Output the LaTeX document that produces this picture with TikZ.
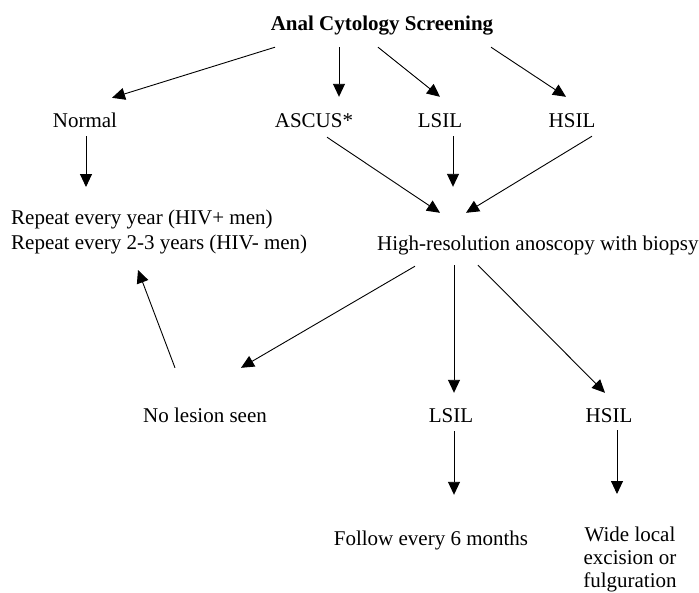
\documentclass[tikz,border=0pt]{standalone}
\usepackage{fontspec}
\setmainfont{Liberation Serif}
\usetikzlibrary{arrows.meta,calc,positioning}

\begin{document}
\begin{tikzpicture}[x=1pt, y=-1pt, every node/.style={font=\fontsize{21}{25}\selectfont}]
    \tikzset{LabelStyle/.style = {inner sep=0pt, text height=14pt, text depth=5pt, anchor=base},
      BlockStyle/.style = {inner sep=0pt},
      EdgeStyle/.style = {-{Triangle[length=13pt,width=12pt]}, line width=0.9pt}}
    \useasboundingbox (0,0) rectangle (699,592);
    \node[LabelStyle, font=\fontsize{21}{25}\selectfont\bfseries] (Screen) at (382,30) {Anal Cytology Screening};
    \node[LabelStyle] (Normal) at (85,127) {Normal};
    \node[LabelStyle] (Ascus) at (314,127) {ASCUS*};
    \node[LabelStyle] (Lsil) at (440,127) {LSIL};
    \node[LabelStyle] (Hsil) at (572,127) {HSIL};
    \node[BlockStyle, align=left, anchor=north west] (Repeat) at (11,210) {Repeat every year (HIV+ men)\\Repeat every 2-3 years (HIV- men)};
    \node[LabelStyle, anchor=base west] (Hra) at (377,250) {High-resolution anoscopy with biopsy};
    \node[LabelStyle] (NoLesion) at (205,422) {No lesion seen};
    \node[LabelStyle] (LsilB) at (451,422) {LSIL};
    \node[LabelStyle] (HsilB) at (609,422) {HSIL};
    \node[LabelStyle] (Follow) at (431,545) {Follow every 6 months};
    \node[BlockStyle, align=center, anchor=north, font=\fontsize{21}{23}\selectfont] (Excision) at (630,527) {Wide local\\excision or\\fulguration};
    % screening results
    \draw[EdgeStyle] ($(Screen.south)+(-107,12)$) -- ($(Normal.north)+(27,-15)$);
    \draw[EdgeStyle] ($(Screen.south)+(-43,12)$) -- ($(Ascus.north)+(25,-16)$);
    \draw[EdgeStyle] ($(Screen.south)+(-4,12)$) -- ($(Lsil.north)+(0,-16)$);
    \draw[EdgeStyle] ($(Screen.south)+(109,12)$) -- ($(Hsil.north)+(-6,-16)$);
    \draw[EdgeStyle] ($(Normal.south)+(1,4)$) -- ($(Repeat.north west)+(75,-23)$);
    \draw[EdgeStyle] ($(Ascus.south)+(13,5)$) -- ($(Hra.north west)+(63,-23)$);
    \draw[EdgeStyle] ($(Lsil.south)+(13,4)$) -- ($(Hra.north west)+(76,-49)$);
    \draw[EdgeStyle] ($(Hsil.south)+(20,4)$) -- ($(Hra.north west)+(89,-23)$);
    % anoscopy results
    \draw[EdgeStyle] ($(Hra.south west)+(38,11)$) -- ($(NoLesion.north)+(36,-40)$);
    \draw[EdgeStyle] ($(Hra.south west)+(77,10)$) -- ($(LsilB.north)+(3,-15)$);
    \draw[EdgeStyle] ($(Hra.south west)+(101,10)$) -- ($(HsilB.north)+(-4,-15)$);
    \draw[EdgeStyle] ($(NoLesion.north)+(-30,-40)$) -- ($(Repeat.north west)+(127,60)$);
    \draw[EdgeStyle] ($(LsilB.south)+(3,4)$) -- ($(Follow.north)+(23,-36)$);
    \draw[EdgeStyle] ($(HsilB.south)+(8,3)$) -- ($(Excision.north)+(-13,-33)$);
  \end{tikzpicture}
\end{document}
